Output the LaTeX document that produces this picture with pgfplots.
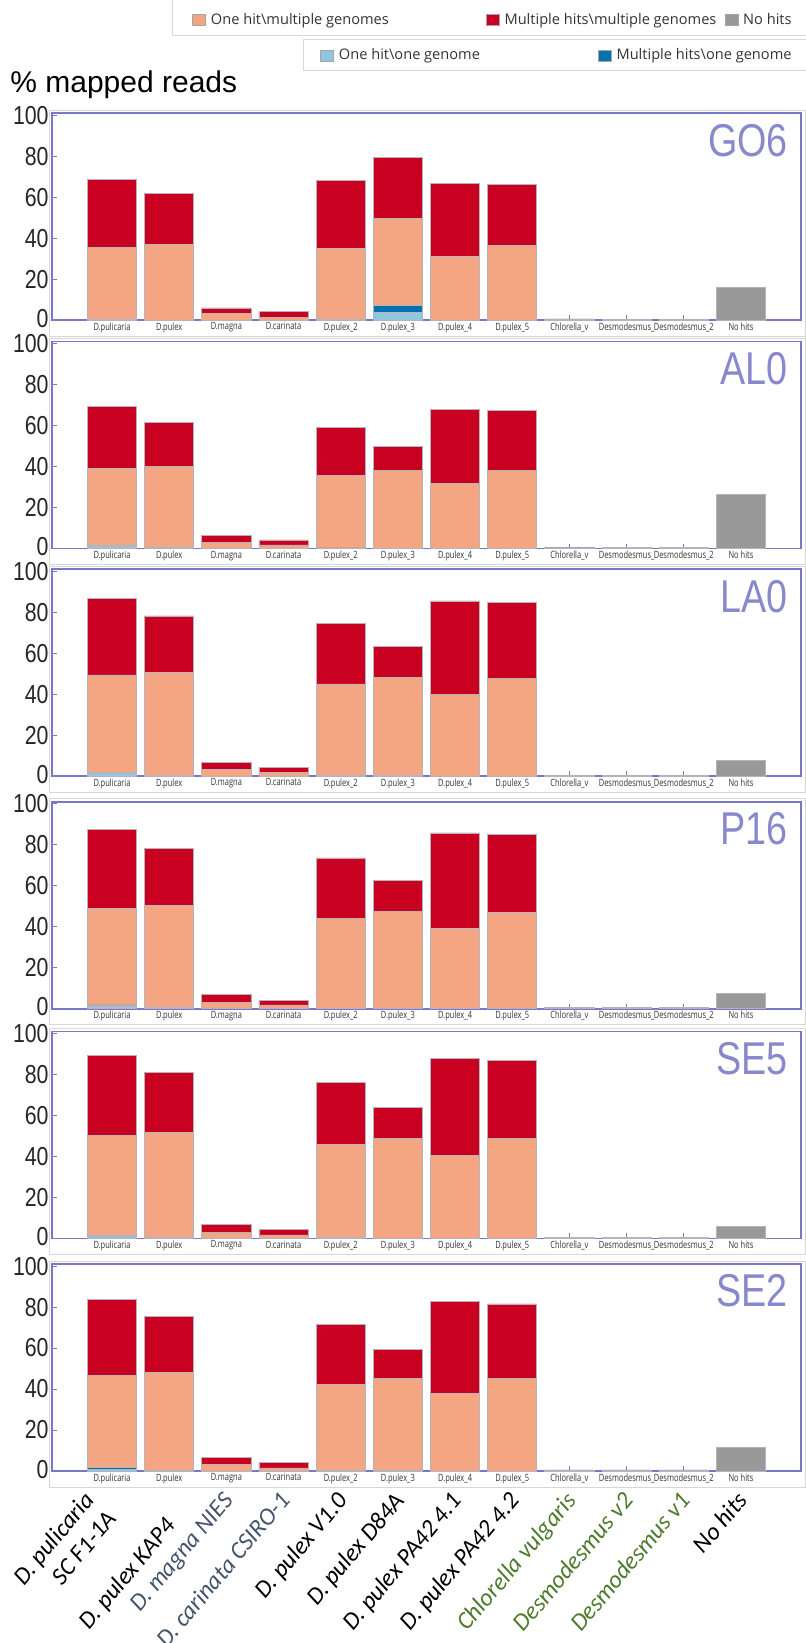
\documentclass[border=0pt]{standalone}
\usepackage{fontspec}
\usepackage{pgfplots}
\usepackage{pgfplotstable}
\pgfplotsset{compat=1.18}
\setmainfont{Liberation Sans}
\newfontfamily\narrowfont[FakeStretch=0.82]{Liberation Sans}
\newfontfamily\legfont{Open Sans}
\newfontfamily\catfont[FakeStretch=0.75]{Open Sans}
\newfontfamily\labfont{Carlito}

\definecolor{oo}{HTML}{92C5DE}
\definecolor{mo}{HTML}{0571B0}
\definecolor{om}{HTML}{F4A582}
\definecolor{mm}{HTML}{CA0020}
\definecolor{nh}{HTML}{999999}
\definecolor{framec}{RGB}{120,120,200}
\definecolor{titlec}{RGB}{136,136,204}
\definecolor{barline}{RGB}{180,180,190}
\definecolor{boxc}{RGB}{215,215,215}
\definecolor{slate}{HTML}{44546A}
\definecolor{greenlab}{HTML}{4E7A2E}

% columns: oo = one hit\one genome, mo = multiple hits\one genome,
% om = one hit\multiple genomes, mm = multiple hits\multiple genomes, nh = no hits
\pgfplotstableread{
x  oo  mo  om   mm   nh
0  0   0.2 35.4 33.2 0
1  0   0   37.1 24.7 0
2  0   0   3.1  2.9  0
3  0   0   1.5  2.7  0
4  0   0.5 34.6 33.2 0
5  3.8 3.6 42.1 29.7 0
6  0   0   30.9 35.8 0
7  0   0   36.4 29.9 0
8  0   0.3 0    0.3  0
9  0   0   0    0.5  0
10 0   0.2 0    0.2  0
11 0   0   0    0    15.8
}\tabGO
\pgfplotstableread{
x  oo  mo  om   mm   nh
0  1.0 0.4 37.9 29.9 0
1  0   0.4 39.8 21.2 0
2  0   0   3.1  3.3  0
3  0   0   1.8  2.4  0
4  0   0.3 35.3 23.4 0
5  0   0.2 38.0 11.7 0
6  0   0   31.9 36.1 0
7  0   0   38.1 29.3 0
8  0   0.3 0    0.2  0
9  0   0   0    0.5  0
10 0   0   0    0.5  0
11 0   0   0    0    26.6
}\tabAL
\pgfplotstableread{
x  oo  mo  om   mm   nh
0  1.2 0.6 47.6 37.5 0
1  0   0.5 50.2 27.5 0
2  0   0   3.1  3.7  0
3  0   0   2.0  2.3  0
4  0   0.4 44.6 29.5 0
5  0   0.4 47.7 15.2 0
6  0   0   40.0 45.5 0
7  0   0   47.8 37.0 0
8  0   0.3 0    0.2  0
9  0   0   0    0.5  0
10 0   0   0    0.5  0
11 0   0   0    0    7.9
}\tabLA
\pgfplotstableread{
x  oo  mo  om   mm   nh
0  1.2 0.7 47.2 38.2 0
1  0   0.5 49.9 28.0 0
2  0   0   3.2  3.8  0
3  0   0   1.9  2.3  0
4  0   0.3 43.9 29.4 0
5  0   0.2 47.1 15.3 0
6  0   0   39.2 46.6 0
7  0   0   47.0 38.0 0
8  0   0.3 0    0.2  0
9  0   0   0    0.5  0
10 0   0   0    0.5  0
11 0   0   0    0    7.5
}\tabPS
\pgfplotstableread{
x  oo  mo  om   mm   nh
0  1.0 0.6 48.8 38.8 0
1  0   0.5 51.4 29.0 0
2  0   0   2.9  3.9  0
3  0   0   1.7  2.5  0
4  0   0.4 45.6 30.1 0
5  0   0.2 48.6 15.3 0
6  0   0   40.6 47.3 0
7  0   0   48.8 38.0 0
8  0   0.3 0    0.2  0
9  0   0   0    0.5  0
10 0   0   0    0.5  0
11 0   0   0    0    5.7
}\tabSEf
\pgfplotstableread{
x  oo  mo  om   mm   nh
0  1.0 0.6 45.0 37.3 0
1  0   0.4 47.6 27.2 0
2  0   0   3.3  3.4  0
3  0   0   1.5  2.6  0
4  0   0.3 41.8 29.4 0
5  0   0.2 45.0 14.3 0
6  0   0   37.9 44.7 0
7  0   0   45.2 36.3 0
8  0   0.3 0    0.2  0
9  0   0   0    0.5  0
10 0   0   0    0.5  0
11 0   0   0    0    11.6
}\tabSEt

\pgfplotsset{
  panel/.style={
    scale only axis, width=374.5pt, height=103.5pt,
    anchor=north west,
    ybar stacked, bar width=0.86,
    xmin=-1.05, xmax=12.05, ymin=0, ymax=101,
    axis line style={framec, line width=0.8pt},
    ytick={0,20,40,60,80,100},
    yticklabels={\raisebox{2pt}{0},20,40,60,80,100},
    xtick={0,...,11},
    xticklabels={D.pulicaria,D.pulex,D.magna,D.carinata,D.pulex\_2,D.pulex\_3,D.pulex\_4,D.pulex\_5,Chlorella\_v,Desmodesmus\_,Desmodesmus\_2,No hits},
    x tick label style={font=\catfont\fontsize{5}{6}\selectfont, text=black!80, inner sep=1pt},
    y tick label style={font=\narrowfont\fontsize{13}{14}\selectfont, text=black!85, inner sep=1.5pt},
    tick style={framec, line width=0.5pt}, major tick length=2.5pt,
    tick align=inside, xtick pos=bottom, ytick pos=left,
    clip=false,
  },
}

\newcommand{\panel}[4]{%
\begin{axis}[panel, at={(26pt,#1)}, #4]
\addplot[fill=oo,draw=barline,line width=0.4pt] table[x=x,y=oo]{#2};
\addplot[fill=mo,draw=barline,line width=0.4pt] table[x=x,y=mo]{#2};
\addplot[fill=om,draw=barline,line width=0.4pt] table[x=x,y=om]{#2};
\addplot[fill=mm,draw=barline,line width=0.4pt] table[x=x,y=mm]{#2};
\addplot[fill=nh,draw=barline,line width=0.4pt] table[x=x,y=nh]{#2};
\node[anchor=north east, inner sep=0pt, font=\narrowfont\fontsize{23}{24}\selectfont, text=titlec] at (rel axis cs:0.983,0.95) {#3};
\draw[boxc, line width=0.5pt] ([xshift=-1.5pt,yshift=1.5pt]rel axis cs:0,1) rectangle ([xshift=2pt,yshift=-8pt]rel axis cs:1,0);
\end{axis}}

\begin{document}
\begin{tikzpicture}
\useasboundingbox (0,0) rectangle (403pt,-821.5pt);

\node[anchor=west, inner sep=0pt, font=\fontsize{15}{17}\selectfont] at (5pt,-42.5pt) {\% mapped reads};

\panel{-56.6pt}{\tabGO}{GO6}{}
\panel{-170.8pt}{\tabAL}{AL0}{}
\panel{-284.6pt}{\tabLA}{LA0}{}
\panel{-400.9pt}{\tabPS}{P16}{}
\panel{-515.7pt}{\tabSEf}{SE5}{}
\panel{-632pt}{\tabSEt}{SE2}{%
  extra x ticks={0,1,2,3,4,5,6,7,8,9,10,11},
  extra x tick labels={{\raisebox{2pt}{\begin{tabular}[c]{@{}r@{}}D. pulicaria\\SC F1-1A\end{tabular}\hspace{7.6pt}}},{\raisebox{-8pt}{D. pulex KAP4\hspace{9.6pt}}},{\color{slate}D. magna NIES},{\color{slate}D. carinata CSIRO-1},{D. pulex V1.0},{D. pulex D84A},{D. pulex PA42 4.1},{D. pulex PA42 4.2},{\color{greenlab}Chlorella vulgaris},{\color{greenlab}Desmodesmus v2},{\color{greenlab}Desmodesmus v1},{No hits}},
  extra x tick style={major tick length=0pt, xticklabel style={font=\labfont\itshape\fontsize{12.2}{14.5}\selectfont, text=black, xshift=4pt, yshift=-15pt, rotate=50, anchor=base east, inner sep=0pt}},
}

% legend boxes
\draw[boxc, line width=0.5pt] (86pt,1pt) -- (86pt,-18pt) -- (404pt,-18pt);
\draw[boxc, line width=0.5pt] (151.5pt,-20pt) rectangle (404pt,-35.5pt);

\begin{axis}[at={(0pt,0pt)}, anchor=north west, scale only axis, width=403pt, height=821.5pt,
  hide axis, xmin=0, xmax=1, ymin=0, ymax=1,
  legend columns=3,
  legend style={at={(0.2382,0.98770)}, anchor=west, draw=none, fill=none, inner sep=0pt,
    font=\legfont\fontsize{7.3}{8.5}\selectfont, text=black!80, nodes={inner sep=0pt}, /tikz/column sep=0pt},
  legend image code/.code={\draw[#1,draw=gray!70,line width=0.3pt] (0pt,-2.6pt) rectangle (6.5pt,2.9pt);},
]
\addlegendimage{fill=om}
\addlegendentry{\makebox[140pt][l]{\hspace{2.5pt}One hit\textbackslash multiple genomes}}
\addlegendimage{fill=mm}
\addlegendentry{\makebox[112.5pt][l]{\hspace{2.5pt}Multiple hits\textbackslash multiple genomes}}
\addlegendimage{fill=nh}
\addlegendentry{\hspace{2.5pt}No hits}
\end{axis}

\begin{axis}[at={(0pt,0pt)}, anchor=north west, scale only axis, width=403pt, height=821.5pt,
  hide axis, xmin=0, xmax=1, ymin=0, ymax=1,
  legend columns=2,
  legend style={at={(0.3970,0.96600)}, anchor=west, draw=none, fill=none, inner sep=0pt,
    font=\legfont\fontsize{7.3}{8.5}\selectfont, text=black!80, nodes={inner sep=0pt}, /tikz/column sep=0pt},
  legend image code/.code={\draw[#1,draw=gray!70,line width=0.3pt] (0pt,-2.6pt) rectangle (6.5pt,2.9pt);},
]
\addlegendimage{fill=oo}
\addlegendentry{\makebox[132pt][l]{\hspace{2.5pt}One hit\textbackslash one genome}}
\addlegendimage{fill=mo}
\addlegendentry{\hspace{2.5pt}Multiple hits\textbackslash one genome}
\end{axis}
\end{tikzpicture}
\end{document}
